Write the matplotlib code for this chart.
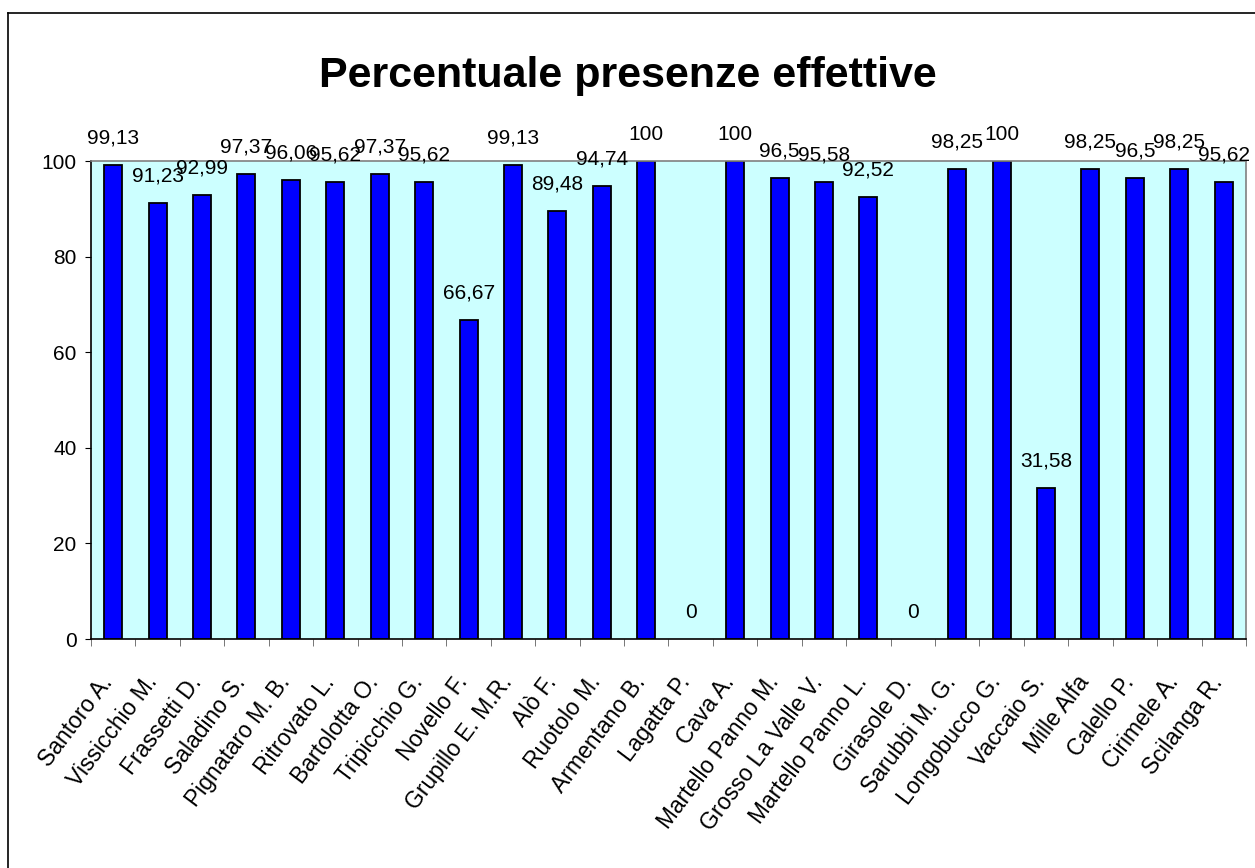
import matplotlib.pyplot as plt
from matplotlib.lines import Line2D
import numpy as np

plt.rcParams['font.family'] = ['Liberation Sans', 'DejaVu Sans']

names = ['Santoro A.', 'Vissicchio M.', 'Frassetti D.', 'Saladino S.',
         'Pignataro M. B.', 'Ritrovato L.', 'Bartolotta O.', 'Tripicchio G.',
         'Novello F.', 'Grupillo E. M.R.', 'Alò F.', 'Ruotolo M.',
         'Armentano B.', 'Lagatta P.', 'Cava A.', 'Martello Panno M.',
         'Grosso La Valle V.', 'Martello Panno L.', 'Girasole D.',
         'Sarubbi M. G.', 'Longobucco G.', 'Vaccaio S.', 'Mille Alfa',
         'Calello P.', 'Cirimele A.', 'Scilanga R.']
percent = [99.13, 91.23, 92.99, 97.37, 96.06, 95.62, 97.37, 95.62, 66.67,
           99.13, 89.48, 94.74, 100, 0, 100, 96.5, 95.58, 92.52, 0, 98.25,
           100, 31.58, 98.25, 96.5, 98.25, 95.62]
yticks = [0, 20, 40, 60, 80, 100]


def plotPresenze():
    fig = plt.figure(figsize=(12.55, 8.68), dpi=100)
    ax = fig.add_axes([0.0725, 0.2638, 0.9203, 0.5507])
    ax.set_facecolor('#CCFFFF')

    x = np.arange(len(names))
    lw = [1.3 if v > 0 else 0 for v in percent]
    ax.bar(x, percent, width=0.405, color='#0000FF', edgecolor='black', linewidth=lw)

    for xi, v in zip(x, percent):
        ax.annotate(f"{v:g}".replace('.', ','), (xi, v), xytext=(0, 27),
                    textcoords='offset pixels', ha='center', va='center',
                    fontsize=15, annotation_clip=False)

    ax.set_xlim(-0.5, len(names) - 0.5)
    ax.set_ylim(0, 100)
    ax.set_yticks(yticks)
    ax.tick_params(axis='y', labelsize=15, length=4.5, direction='out', pad=6)

    ax.set_xticks(x)
    ax.set_xticklabels(names, rotation=53, ha='right', va='baseline',
                       rotation_mode='anchor', fontsize=16.5)
    ax.tick_params(axis='x', which='major', length=0, pad=31)
    ax.set_xticks(np.arange(len(names) + 1) - 0.5, minor=True)
    ax.tick_params(axis='x', which='minor', length=5, direction='out', color='#606060')

    ax.spines['left'].set_color('black')
    ax.spines['bottom'].set_color('black')
    ax.spines['top'].set_color('#808080')
    ax.spines['right'].set_color('#808080')
    for s in ax.spines.values():
        s.set_linewidth(1.2)

    fig.text(0.5, 0.913, 'Percentuale presenze effettive', ha='center', va='center',
             fontsize=31, fontweight='bold')

    # chart border (only left and top edges are visible in the picture)
    x0 = 8 / 1255
    y0 = 1 - 13 / 868
    fig.lines.append(Line2D([x0, x0], [0, y0], transform=fig.transFigure, color='black', lw=1.2))
    fig.lines.append(Line2D([x0, 1], [y0, y0], transform=fig.transFigure, color='black', lw=1.2))

    fig.savefig('out.png', dpi=100)


if __name__ == "__main__":
    plotPresenze()
